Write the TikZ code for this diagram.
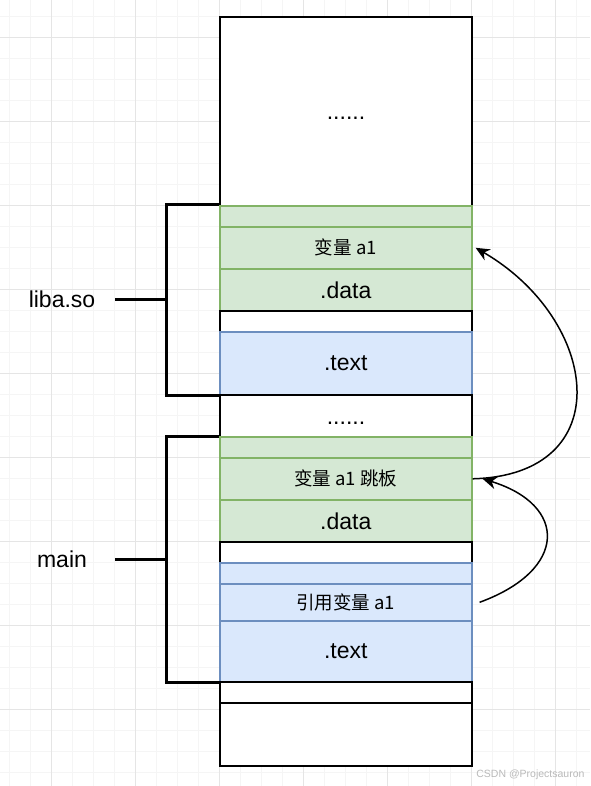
\documentclass[tikz,border=0pt]{standalone}
\usepackage{fontspec}
\setmainfont{Liberation Sans}
\newfontfamily\cjk{Noto Sans CJK SC}
\usetikzlibrary{arrows.meta}
\definecolor{datafill}{HTML}{D5E8D4}
\definecolor{dataline}{HTML}{82B366}
\definecolor{textfill}{HTML}{DAE8FC}
\definecolor{textline}{HTML}{6C8EBF}
\tikzset{
  seg/.style={draw=black, line width=2pt, fill=white, minimum width=252pt, inner sep=0pt,
    anchor=north west, font=\fontsize{23}{27}\selectfont},
  dataseg/.style={seg, draw=dataline, fill=datafill, line width=1.6pt},
  textseg/.style={seg, draw=textline, fill=textfill, line width=1.6pt},
  cn/.style={font=\cjk\fontsize{18.5}{22}\selectfont},
  brace/.style={line width=3pt},
  jump/.style={line width=1.5pt, -{Stealth[length=14pt,width=12.5pt]}},
}
\newcommand{\lowdots}[1]{\raisebox{-#1}[0pt][0pt]{......}}
\begin{document}
\begin{tikzpicture}[x=1pt, y=-1pt]
        \useasboundingbox (0,0) rectangle (590,786);
        % Grid
        \foreach \x in {9,30,...,590} \draw[gray!8, line width=0.8pt] (\x,0) -- (\x,786);
        \foreach \y in {16,37,...,786} \draw[gray!8, line width=0.8pt] (0,\y) -- (590,\y);
        \foreach \x in {51,135,...,590} \draw[gray!20, line width=0.8pt] (\x,0) -- (\x,786);
        \foreach \y in {37,121,...,786} \draw[gray!20, line width=0.8pt] (0,\y) -- (590,\y);
        % Segments
        \node[seg, minimum height=189pt] (top) at (219,16) {\lowdots{8pt}};
        \node[dataseg, minimum height=21pt] (d1) at (219,205) {};
        \node[dataseg, cn, minimum height=42pt] (a1) at (219,226) {变量 a1};
        \node[dataseg, minimum height=42pt] (data1) at (219,268) {.data};
        \node[seg, minimum height=21pt] (gap1) at (219,310) {};
        \node[textseg, minimum height=63pt] (text1) at (219,331) {.text};
        \node[seg, minimum height=42pt] (gap2) at (219,394) {\lowdots{8.5pt}};
        \node[dataseg, minimum height=21pt] (d2) at (219,436) {};
        \node[dataseg, cn, minimum height=42pt] (tramp) at (219,457) {变量 a1 跳板};
        \node[dataseg, minimum height=42pt] (data2) at (219,499) {.data};
        \node[seg, minimum height=21pt] (gap3) at (219,541) {};
        \node[textseg, minimum height=21pt] (t2) at (219,562) {};
        \node[textseg, cn, minimum height=37pt] (ref) at (219,583) {引用变量 a1};
        \node[textseg, minimum height=61pt] (text2) at (219,620) {.text};
        \node[seg, minimum height=21pt] (gap4) at (219,681) {};
        \node[seg, minimum height=63pt] (bottom) at (219,702) {};
        % Brackets
        \draw[brace] (d1.north west) -- ++(-53,0) |- (text1.south west);
        \draw[brace] (d2.north west) -- ++(-53,0) |- (text2.south west);
        \coordinate (libmid) at (166,299);
        \coordinate (mainmid) at (166,559);
        \draw[brace] (libmid) -- ++(-51,0);
        \draw[brace] (mainmid) -- ++(-51,0);
        % Labels
        \node[font=\fontsize{23}{27}\selectfont] (lib) at (62,299) {liba.so};
        \node[font=\fontsize{23}{27}\selectfont] (main) at (62,559) {main};
        % Arrows
        \draw[jump] (tramp.east) .. controls (620,475) and (600,320) .. ([xshift=3pt]a1.east);
        \draw[jump] ([xshift=7pt]ref.east) .. controls (568,570) and (568,505) .. ([xshift=10pt]tramp.east);
        % Watermark
        \node[anchor=east, text=gray!55, font=\fontsize{10.5}{12}\selectfont] (mark) at (588,775) {CSDN @Projectsauron};
\end{tikzpicture}
\end{document}
